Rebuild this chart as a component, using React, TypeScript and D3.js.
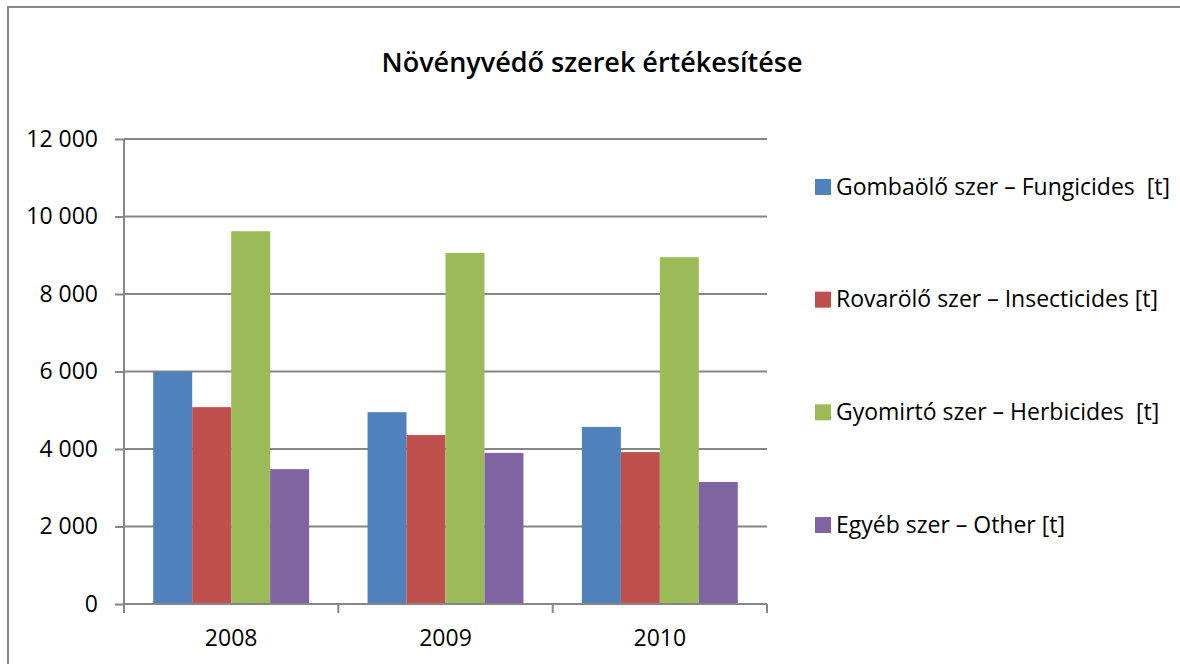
import React, { useEffect, useRef } from "react";
import * as d3 from "d3";

const years = ["2008", "2009", "2010"];
const seriesNames = [
  "Gombaölő szer – Fungicides  [t]",
  "Rovarölő szer – Insecticides [t]",
  "Gyomirtó szer – Herbicides  [t]",
  "Egyéb szer – Other [t]",
];
const fungicides = [6000, 4950, 4570];
const insecticides = [5080, 4360, 3920];
const herbicides = [9620, 9060, 8950];
const other = [3480, 3900, 3150];
const yTicks = [0, 2000, 4000, 6000, 8000, 10000, 12000];
const colors = ["#4F81BD", "#C0504D", "#9BBB59", "#8064A2"];
const title = "Növényvédő szerek értékesítése";

const FONT = "'Open Sans', Lato, sans-serif";

export default function App() {
  const ref = useRef<SVGSVGElement>(null);

  useEffect(() => {
    const svg = d3.select(ref.current);
    svg.selectAll("*").remove();

    const values = [fungicides, insecticides, herbicides, other];
    const gridColor = "#868686";

    const left = 124, right = 767, top = 139, bottom = 604;

    const x = d3.scaleBand().domain(years).range([left, right]).padding(0);
    const x1 = d3
      .scaleBand()
      .domain(seriesNames)
      .range([0, x.bandwidth()])
      .paddingInner(0)
      .paddingOuter(0.75);
    const y = d3.scaleLinear().domain([0, 12000]).range([bottom, top]);

    const locale = d3.formatLocale({
      decimal: ",",
      thousands: "\u00a0",
      grouping: [3],
      currency: ["", ""],
    });
    const fmt = locale.format(",");

    // frame
    svg.append("line")
      .attr("x1", 8).attr("x2", 8).attr("y1", 6).attr("y2", 664)
      .attr("stroke", gridColor).attr("stroke-width", 2);
    svg.append("line")
      .attr("x1", 7).attr("x2", 1180).attr("y1", 7).attr("y2", 7)
      .attr("stroke", gridColor).attr("stroke-width", 2);

    // title
    svg.append("text")
      .attr("x", 592).attr("y", 72)
      .attr("text-anchor", "middle")
      .attr("font-family", FONT).attr("font-weight", 600)
      .attr("font-size", 27)
      .text(title);

    // gridlines
    svg.append("g")
      .selectAll("line")
      .data(yTicks.filter((d) => d > 0))
      .join("line")
      .attr("x1", left).attr("x2", right)
      .attr("y1", (d) => y(d)).attr("y2", (d) => y(d))
      .attr("stroke", gridColor).attr("stroke-width", 2);

    // bars
    svg.append("g")
      .selectAll("g")
      .data(years)
      .join("g")
      .attr("transform", (d) => `translate(${x(d)},0)`)
      .selectAll("rect")
      .data((d, i) => seriesNames.map((s, k) => ({ s, k, v: values[k][i] })))
      .join("rect")
      .attr("x", (d) => x1(d.s)!)
      .attr("width", x1.bandwidth())
      .attr("y", (d) => y(d.v))
      .attr("height", (d) => bottom - y(d.v))
      .attr("fill", (d) => colors[d.k]);

    // y axis
    const yAxis = svg.append("g")
      .attr("transform", `translate(${left},0)`)
      .call(d3.axisLeft(y).tickValues(yTicks).tickSize(9).tickPadding(17).tickFormat((d) => fmt(d as number)));
    yAxis.select(".domain").attr("stroke", gridColor).attr("stroke-width", 2).attr("d", `M0,${top}V${bottom + 9}`);
    yAxis.selectAll(".tick line").attr("stroke", gridColor).attr("stroke-width", 2);
    yAxis.selectAll(".tick text")
      .attr("font-family", FONT).attr("font-size", 23).attr("fill", "#000");

    // x axis
    svg.append("line")
      .attr("x1", left).attr("x2", right).attr("y1", bottom).attr("y2", bottom)
      .attr("stroke", gridColor).attr("stroke-width", 2);
    const bounds = years.map((d) => x(d)!).concat([x(years[years.length - 1])! + x.bandwidth()]);
    svg.append("g")
      .selectAll("line")
      .data(bounds)
      .join("line")
      .attr("x1", (d) => d).attr("x2", (d) => d)
      .attr("y1", bottom).attr("y2", bottom + 9)
      .attr("stroke", gridColor).attr("stroke-width", 2);
    svg.append("g")
      .selectAll("text")
      .data(years)
      .join("text")
      .attr("x", (d) => x(d)! + x.bandwidth() / 2)
      .attr("y", 646)
      .attr("text-anchor", "middle")
      .attr("font-family", FONT).attr("font-size", 23)
      .text((d) => d);

    // legend
    const legendY = d3.scalePoint().domain(seriesNames).range([187, 525]);
    const lg = svg.append("g")
      .selectAll("g")
      .data(seriesNames)
      .join("g")
      .attr("transform", (d) => `translate(815,${legendY(d)})`);
    lg.append("rect")
      .attr("x", 0).attr("y", -8).attr("width", 16).attr("height", 16)
      .attr("fill", (d, i) => colors[i]);
    lg.append("text")
      .attr("x", 21).attr("y", 7.5)
      .attr("font-family", FONT).attr("font-size", 23)
      .attr("xml:space", "preserve")
      .style("white-space", "pre")
      .text((d) => d);
  }, []);

  return (
    <svg
      ref={ref}
      width={1180}
      height={664}
      style={{ position: "absolute", left: 0, top: 0, background: "#fff" }}
    />
  );
}
